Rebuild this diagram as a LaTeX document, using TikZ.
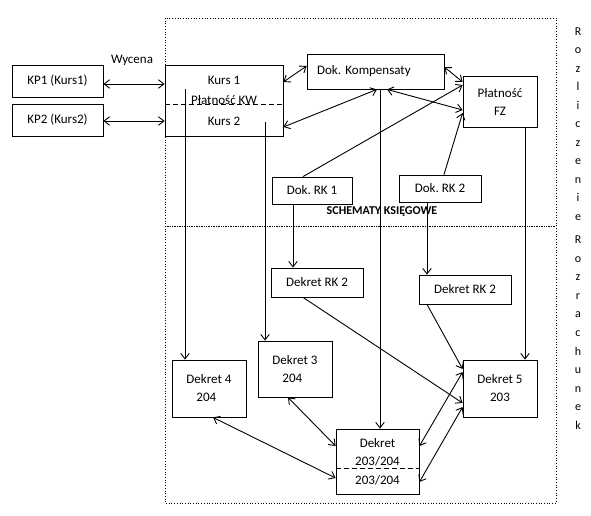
\documentclass[tikz,border=0pt]{standalone}
\usepackage{fontspec}
\setmainfont{Carlito}
\frenchspacing
\usetikzlibrary{arrows.meta,
	calc,
	positioning}
\tikzstyle{bx}=[draw, line width=0.8pt, inner sep=0, font=\fontsize{13}{17}\selectfont]
\tikzstyle{tx}=[inner sep=0, font=\fontsize{13}{17}\selectfont]
\tikzstyle{ln}=[line width=0.9pt, -{Straight Barb[length=5.5pt,width=8.5pt]}]
\tikzstyle{dl}=[line width=0.9pt, {Straight Barb[length=5.5pt,width=8.5pt]}-{Straight Barb[length=5.5pt,width=8.5pt]}]
\tikzstyle{sp}=[line width=0.8pt, dash pattern=on 5pt off 3pt]

\begin{document}
\begin{tikzpicture}[x=1pt,y=-1pt]
            \useasboundingbox (0,0) rectangle (591,515);
            \draw[dotted, line width=0.7pt] (165,18) rectangle (556,503);
            \draw[densely dotted, line width=0.7pt] (165,226) -- (556,226);

            \node[bx, minimum width=91pt, minimum height=32pt] (kp1) at (57.5,81) {KP1 (Kurs1)};
            \node[bx, minimum width=91pt, minimum height=32pt] (kp2) at (57.5,120) {KP2 (Kurs2)};
            \node[bx, minimum width=118pt, minimum height=71pt, align=center] (kurs) at (224,100.5) {Kurs 1\\[3.5pt]Płatność KW\\[3.5pt]Kurs 2};
            \node[bx, minimum width=137pt, minimum height=35pt, align=left, text width=117pt] (komp) at (375.5,71.5) {Dok. Kompensaty};
            \node[bx, minimum width=74pt, minimum height=51pt, align=center] (fz) at (500,101.5) {Płatność\\[1pt]FZ};
            \node[bx, minimum width=80pt, minimum height=27pt] (rk1) at (312,190.5) {Dok. RK 1};
            \node[bx, minimum width=82pt, minimum height=27pt] (rk2) at (440,188.5) {Dok. RK 2};
            \node[bx, minimum width=92pt, minimum height=29pt] (dkl) at (317,282.5) {Dekret RK 2};
            \node[bx, minimum width=92pt, minimum height=29pt] (dkr) at (465,289.5) {Dekret RK 2};
            \node[bx, minimum width=74pt, minimum height=57pt, align=left] (d4) at (209,388.5) {Dekret 4\\[1pt]\hspace*{10pt}204};
            \node[bx, minimum width=74pt, minimum height=56pt, align=left] (d3) at (295,369) {Dekret 3\\[1pt]\hspace*{10pt}204};
            \node[bx, minimum width=74pt, minimum height=57pt, align=center] (d5) at (500,388.5) {Dekret 5\\[1pt]203};
            \node[bx, minimum width=83pt, minimum height=65pt, align=center] (d34) at (377.5,461.5) {Dekret\\[1.5pt]203/204\\[1.5pt]203/204};

            \draw[sp] (kurs.west |- 0,104) -- (kurs.east |- 0,104);
            \draw[sp] (d34.west |- 0,468) -- (d34.east |- 0,468);

            \node[tx] (wyc) at (132,60) {Wycena};
            \node[inner sep=0, font=\fontsize{12}{14}\selectfont\bfseries] (sch) at (382,212) {SCHEMATY KSIĘGOWE};
            \foreach \c [count=\i from 0] in {R,o,z,l,i,c,z,e,n,i,e}
                \node[inner sep=0, anchor=base, font=\fontsize{12}{14}\selectfont] (r\i) at (578,35+18.5*\i) {\c};
            \foreach \c [count=\i from 0] in {R,o,z,r,a,c,h,u,n,e,k}
                \node[inner sep=0, anchor=base, font=\fontsize{12}{14}\selectfont] (s\i) at (578,243.5+18.6*\i) {\c};

            \coordinate (k1) at (185,89);
            \coordinate (k2) at (265,122);

            \draw[dl] (kp1.east |- 0,84) -- (kurs.west |- 0,84);
            \draw[dl] (kp2.east |- 0,121) -- (kurs.west |- 0,121);
            \draw[ln] (k1) -- (k1 |- d4.north);
            \draw[ln] (k2) -- (k2 |- d3.north);
            \draw[dl] (kurs.east |- 0,82) -- (komp.west |- 0,66);
            \draw[dl] (kurs.east |- 0,127) -- (komp.south -| 377,0);
            \draw[dl] (komp.east |- 0,67) -- (fz.west |- 0,82);
            \draw[dl] (komp.south -| 387,0) -- (fz.west |- 0,110);
            \draw[ln] (rk1.north -| 303,0) -- (fz.west |- 0,85);
            \draw[ln] (rk2.north -| 444,0) -- (fz.west |- 0,113);
            \draw[ln] (komp.south -| 380,0) -- (d34.north -| 380,0);
            \draw[ln] (fz.south -| 525,0) -- (d5.north -| 525,0);
            \draw[ln] (rk1.south -| 293,0) -- (dkl.north -| 293,0);
            \draw[ln] (rk2.south -| 427,0) -- (dkr.north -| 427,0);
            \draw[ln] (dkl.south -| 303,0) -- (d5.west |- 0,403);
            \draw[ln] (dkr.south -| 427,0) -- (d5.west |- 0,369);
            \draw[dl] (d4.south -| 213,0) -- (d34.west |- 0,478);
            \draw[dl] (d3.south -| 288,0) -- (d34.west |- 0,446);
            \draw[dl] (d5.west |- 0,372) -- (d34.east |- 0,446);
            \draw[dl] (d5.west |- 0,407) -- (d34.east |- 0,482);
        \end{tikzpicture}
\end{document}
